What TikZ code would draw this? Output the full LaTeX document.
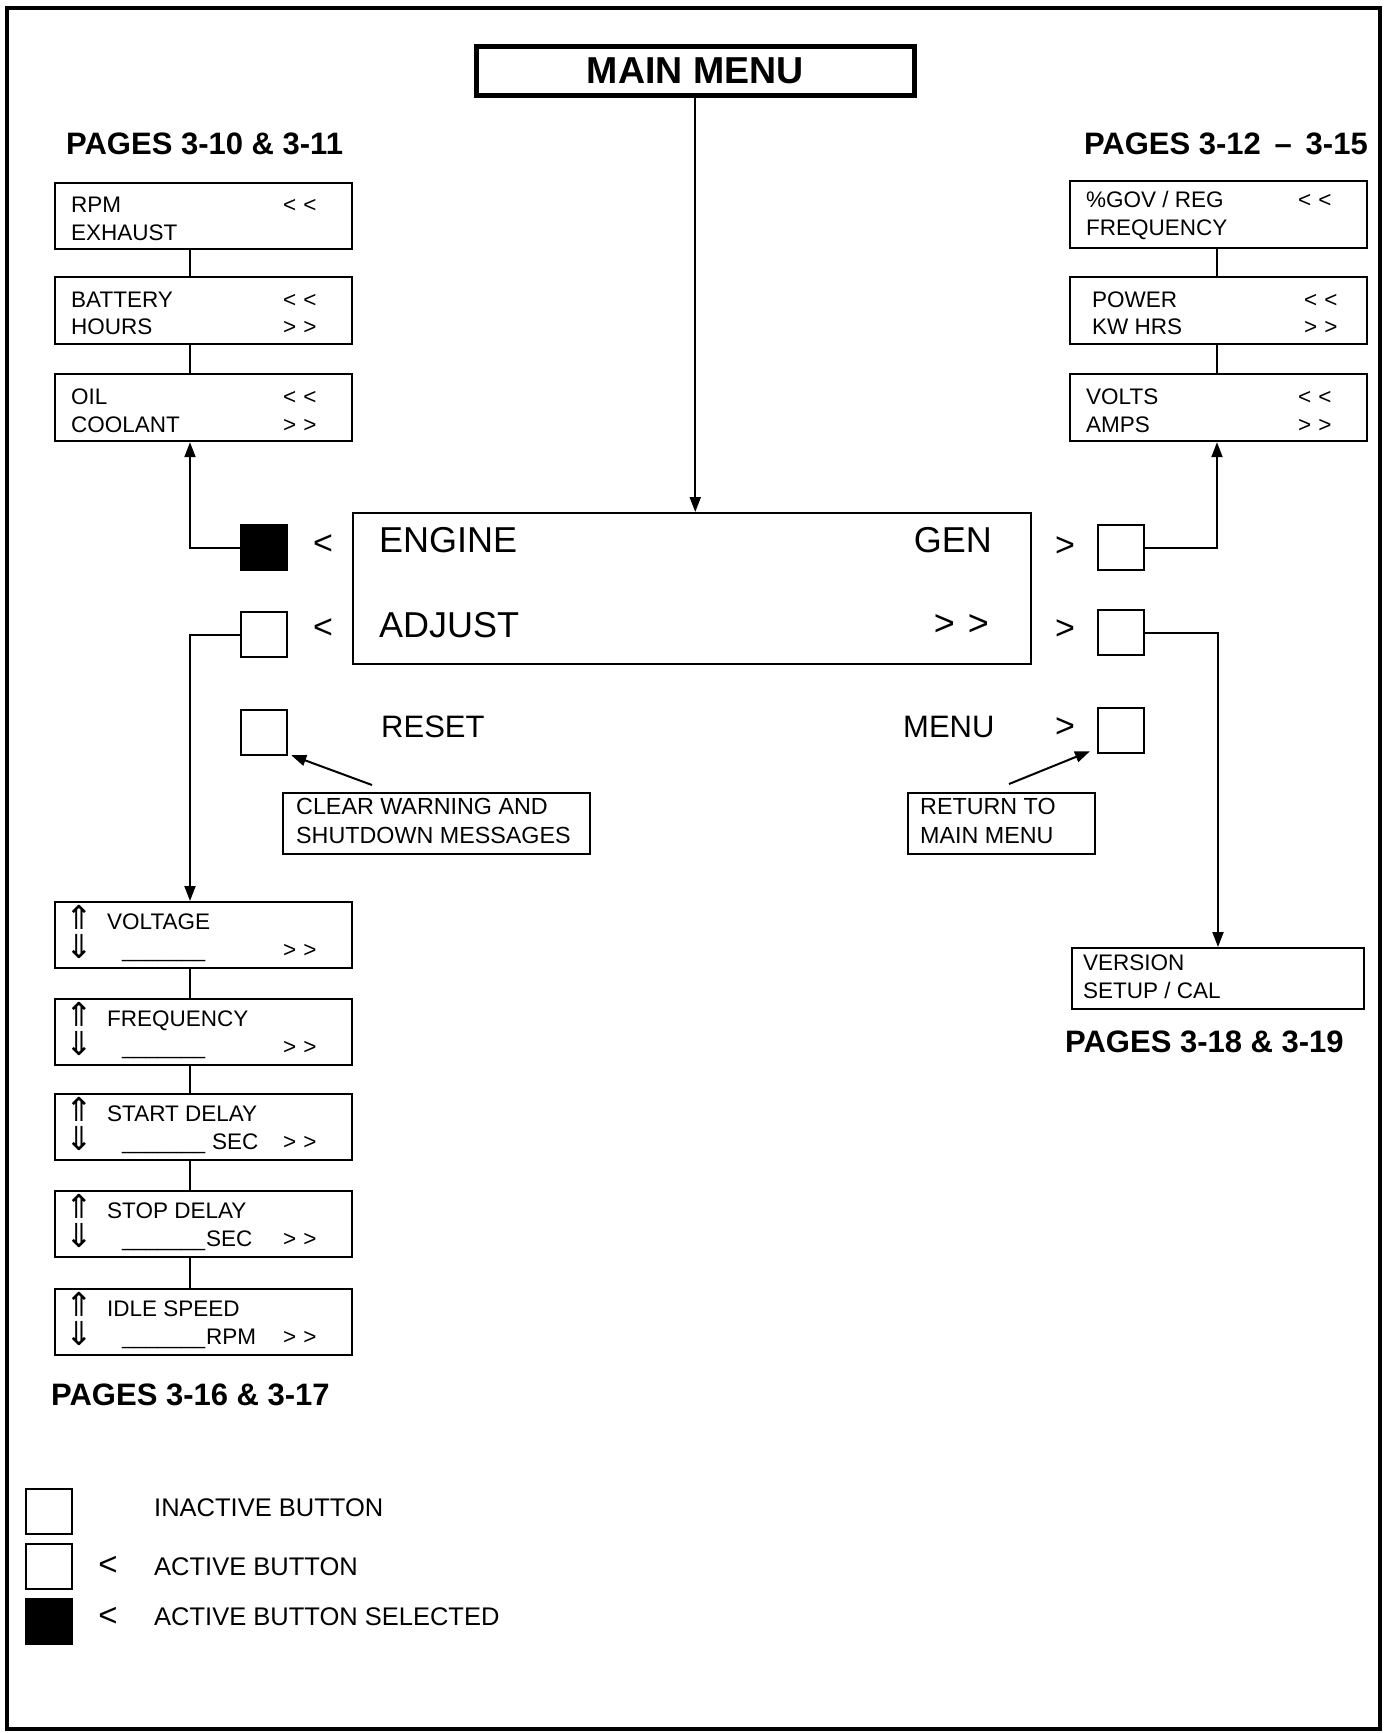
\documentclass[tikz,border=0pt]{standalone}
\usepackage{fontspec}
\setmainfont{Liberation Sans}
\newfontfamily\symfont{DejaVu Sans}
\usetikzlibrary{arrows.meta,calc}
\newcommand\fsz[1]{\fontsize{#1}{#1}\selectfont}
\newcommand\myGG{>\kern7pt>}
\newcommand\myLL{<\kern7pt<}
\newcommand\myUL{\_\_\_\_\_\_\_}
\begin{document}
\begin{tikzpicture}[x=1pt,y=-1pt,
  box/.style={draw, line width=2.2pt, inner sep=0, anchor=north west, minimum width=297, minimum height=66},
  btn/.style={draw, line width=2.2pt, inner sep=0, anchor=north west, minimum width=46, minimum height=45},
  btnon/.style={btn, fill=black},
  t/.style={anchor=base west, inner sep=0, font=\fsz{22.5}},
  big/.style={anchor=base west, inner sep=0, font=\fsz{36}},
  mid/.style={anchor=base west, inner sep=0, font=\fsz{31}},
  call/.style={anchor=base west, inner sep=0, font=\fsz{23.3}},
  leg/.style={anchor=base west, inner sep=0, font=\fsz{25.5}},
  hd/.style={anchor=base west, inner sep=0, font=\fsz{31}\bfseries},
  chev/.style={anchor=center, inner sep=0, font=\fsz{34}},
  ud/.style={anchor=center, inner sep=0, font=\symfont\fsz{33}},
  conn/.style={line width=2pt},
  arr/.style={line width=2pt, -{Triangle[length=15pt,width=11pt]}}
]
\useasboundingbox (0,0) rectangle (1389,1733);
\draw[line width=4pt] (7,8) rectangle (1380,1729);

% main menu
\node[draw, line width=4.5pt, inner sep=0, anchor=north west, minimum width=438, minimum height=49,
      font=\fsz{37.5}\bfseries] (MM) at (474,44) {MAIN MENU};

% display
\node[box, minimum width=678, minimum height=151] (D) at (352,512) {};
\node[big] (tEng) at (379,552) {ENGINE};
\node[anchor=base east, inner sep=0, font=\fsz{36}] (tGen) at (992,552) {GEN};
\node[big] (tAdj) at (379,637) {ADJUST};
\node[anchor=base east, inner sep=0, font=\fsz{36}] (tAdjR) at (989,635) {>\kern13pt>};

% buttons
\node[btnon] (B1) at (240,524) {};
\node[btn] (B2) at (240,611) {};
\node[btn] (B3) at (240,709) {};
\node[btn] (B4) at (1097,524) {};
\node[btn] (B5) at (1097,609) {};
\node[btn] (B6) at (1097,707) {};
\node[chev] (c1) at (323,545) {<};
\node[chev] (c2) at (323,629) {<};
\node[chev] (c3) at (1065,547) {>};
\node[chev] (c4) at (1065,630) {>};
\node[chev] (c5) at (1065,728) {>};
\node[mid] (tReset) at (381,737) {RESET};
\node[mid] (tMenu) at (903,737) {MENU};

% callouts
\node[draw, line width=2.2pt, inner sep=0, anchor=north west, minimum width=307, minimum height=61] (CW) at (282,792) {};
\node[call] (cw1) at (296,814) {CLEAR WARNING AND};
\node[call] (cw2) at (296,843) {SHUTDOWN MESSAGES};
\node[draw, line width=2.2pt, inner sep=0, anchor=north west, minimum width=187, minimum height=61] (RT) at (907,792) {};
\node[call] (rt1) at (920,814) {RETURN TO};
\node[call] (rt2) at (920,843) {MAIN MENU};
\coordinate (cwS) at ($(CW.north west)+(90,-7)$);
\coordinate (rtS) at ($(RT.north west)+(102,-8)$);
\draw[arr] (cwS) -- ([shift={(3pt,1pt)}]B3.south east);
\draw[arr] (rtS) -- ([shift={(-7pt,3pt)}]B6.south west);

% left top
\node[hd] (h1) at (66,154) {PAGES 3-10 \& 3-11};
\node[box] (L1) at (54,182) {};
\node[t] (l1a) at (71,212) {RPM};
\node[t] (l1b) at (283,212) {\myLL};
\node[t] (l1c) at (71,240) {EXHAUST};
\node[box, minimum height=67] (L2) at (54,276) {};
\node[t] (l2a) at (71,307) {BATTERY};
\node[t] (l2b) at (283,307) {\myLL};
\node[t] (l2c) at (71,334) {HOURS};
\node[t] (l2d) at (283,334) {\myGG};
\node[box, minimum height=67] (L3) at (54,373) {};
\node[t] (l3a) at (71,404) {OIL};
\node[t] (l3b) at (283,404) {\myLL};
\node[t] (l3c) at (71,432) {COOLANT};
\node[t] (l3d) at (283,432) {\myGG};
\draw[conn] ([xshift=136pt]L1.south west) -- ([xshift=136pt]L2.north west);
\draw[conn] ([xshift=136pt]L2.south west) -- ([xshift=136pt]L3.north west);

% right top
\node[anchor=base east, inner sep=0, font=\fsz{31}\bfseries] (h2) at (1368,154) {PAGES 3-12 \,–\, 3-15};
\node[box, minimum height=67] (R1) at (1069,180) {};
\node[t] (r1a) at (1086,207) {\%GOV / REG};
\node[t] (r1b) at (1298,207) {\myLL};
\node[t] (r1c) at (1086,235) {FREQUENCY};
\node[box, minimum height=67] (R2) at (1069,276) {};
\node[t] (r2a) at (1092,307) {POWER};
\node[t] (r2b) at (1304,307) {\myLL};
\node[t] (r2c) at (1092,334) {KW HRS};
\node[t] (r2d) at (1304,334) {\myGG};
\node[box, minimum height=67] (R3) at (1069,373) {};
\node[t] (r3a) at (1086,404) {VOLTS};
\node[t] (r3b) at (1298,404) {\myLL};
\node[t] (r3c) at (1086,432) {AMPS};
\node[t] (r3d) at (1298,432) {\myGG};
\draw[conn] ([xshift=148pt]R1.south west) -- ([xshift=148pt]R2.north west);
\draw[conn] ([xshift=148pt]R2.south west) -- ([xshift=148pt]R3.north west);

% right bottom
\node[box, minimum width=292, minimum height=61] (VS) at (1071,947) {};
\node[t] (vs1) at (1083,970) {VERSION};
\node[t] (vs2) at (1083,998) {SETUP / CAL};
\node[hd] (h4) at (1065,1052) {PAGES 3-18 \& 3-19};

% left bottom
\node[box] (V1) at (54,901) {};
\node[box] (V2) at (54,998) {};
\node[box] (V3) at (54,1093) {};
\node[box] (V4) at (54,1190) {};
\node[box] (V5) at (54,1288) {};
\foreach \n in {V1,V2,V3,V4,V5}{
  \node[ud] (\n u) at ($(\n.north west)+(25.5,16)$) {⇑};
  \node[ud] (\n d) at ($(\n.north west)+(25.5,46)$) {⇓};
  \node[t] (\n g) at ($(\n.north west)+(229,56)$) {\myGG};
  \node[t, font=\fsz{21.3}] (\n l) at ($(\n.north west)+(68,56)$) {\myUL};
}
\node[t] (v1t) at ($(V1.north west)+(53,28)$) {VOLTAGE};
\node[t] (v2t) at ($(V2.north west)+(53,28)$) {FREQUENCY};
\node[t] (v3t) at ($(V3.north west)+(53,28)$) {START DELAY};
\node[t] (v3s) at ($(V3.north west)+(158,56)$) {SEC};
\node[t] (v4t) at ($(V4.north west)+(53,28)$) {STOP DELAY};
\node[t] (v4s) at ($(V4.north west)+(152,56)$) {SEC};
\node[t] (v5t) at ($(V5.north west)+(53,28)$) {IDLE SPEED};
\node[t] (v5s) at ($(V5.north west)+(152,56)$) {RPM};
\draw[conn] ([xshift=136pt]V1.south west) -- ([xshift=136pt]V2.north west);
\draw[conn] ([xshift=136pt]V2.south west) -- ([xshift=136pt]V3.north west);
\draw[conn] ([xshift=136pt]V3.south west) -- ([xshift=136pt]V4.north west);
\draw[conn] ([xshift=136pt]V4.south west) -- ([xshift=136pt]V5.north west);
\node[hd] (h3) at (51,1405) {PAGES 3-16 \& 3-17};

% connectors
\draw[arr] (MM.south) -- (MM.south |- D.north);
\draw[arr] (B1.west) -| ([xshift=136pt]L3.south west);
\draw[arr] (B2.west) -| ([xshift=136pt]V1.north west);
\draw[arr] (B4.east) -| ([xshift=148pt]R3.south west);
\draw[arr] (B5.east) -| ([xshift=147pt]VS.north west);

% legend
\node[btn] (G1) at (25,1488) {};
\node[btn] (G2) at (25,1543) {};
\node[btnon] (G3) at (25,1598) {};
\node[chev, font=\fsz{33}] (gc2) at (108,1566) {<};
\node[chev, font=\fsz{33}] (gc3) at (108,1617) {<};
\node[leg] (g1) at (154,1516) {INACTIVE BUTTON};
\node[leg] (g2) at (154,1575) {ACTIVE BUTTON};
\node[leg] (g3) at (154,1625) {ACTIVE BUTTON SELECTED};
\end{tikzpicture}
\end{document}
